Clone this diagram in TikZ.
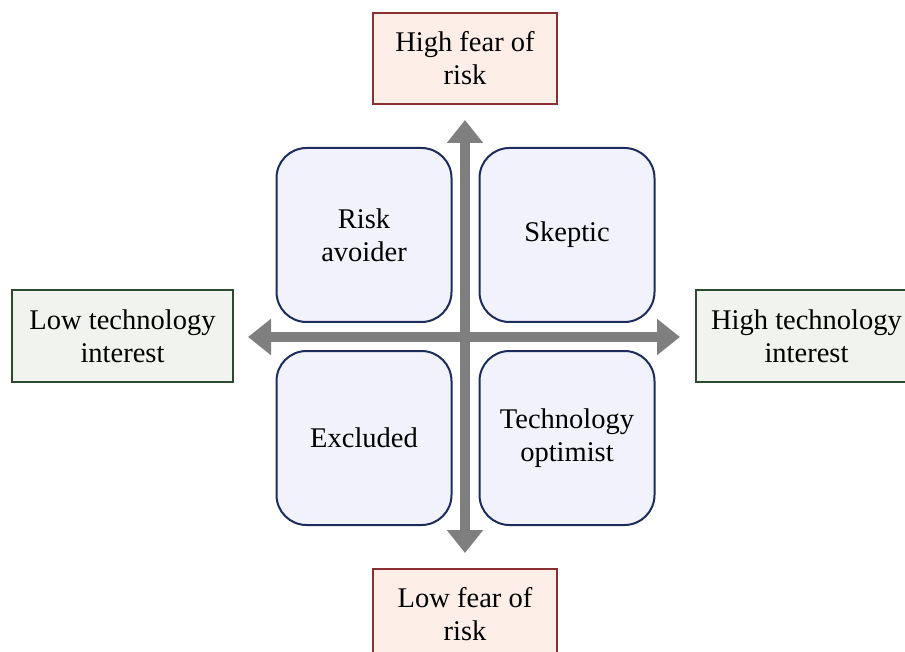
\documentclass[tikz,border=0pt]{standalone}
\usepackage{fontspec}
\setmainfont{Liberation Serif}
\usetikzlibrary{arrows.meta}
\definecolor{pinkfill}{HTML}{FDEFE8}
\definecolor{pinkdraw}{HTML}{8B3030}
\definecolor{greenfill}{HTML}{F0F3EE}
\definecolor{greendraw}{HTML}{2E4A2E}
\definecolor{quadfill}{HTML}{F2F2FC}
\definecolor{quaddraw}{HTML}{1C2C5C}
\definecolor{axisgray}{HTML}{7F7F7F}
\tikzset{
  lbl/.style={font=\fontsize{28.5}{33}\selectfont, align=center, inner sep=0pt, text=black},
  fearbox/.style={lbl, draw=pinkdraw, fill=pinkfill, line width=1.5pt, minimum width=184pt, minimum height=91pt},
  techbox/.style={lbl, draw=greendraw, fill=greenfill, line width=1.5pt, minimum width=221pt, minimum height=92pt},
  quad/.style={lbl, draw=quaddraw, fill=quadfill, line width=2pt, rounded corners=30pt, minimum width=175pt, minimum height=174pt},
  axis/.style={draw=axisgray, line width=10pt, {Triangle[width=35pt,length=23pt]}-{Triangle[width=35pt,length=23pt]}}
}
\begin{document}
\begin{tikzpicture}[x=1pt,y=-1pt]
\useasboundingbox (0,0) rectangle (905,652);
\clip (0,0) rectangle (905,652);
\fill[white] (0,0) rectangle (905,652);
% axes
\coordinate (top) at (465,120);
\coordinate (bot) at (465,553);
\coordinate (lft) at (248,337);
\coordinate (rgt) at (680,337);
\draw[axis] (bot) -- (top);
\draw[axis] (lft) -- (rgt);
% quadrants
\node[quad] (ra) at (364,235) {Risk\\avoider};
\node[quad] (sk) at (567,235) {Skeptic};
\node[quad] (ex) at (364,438) {Excluded};
\node[quad] (to) at (567,438) {Technology\\optimist};
% labels
\node[fearbox] (hf) at (465,58.5) {High fear of\\risk};
\node[fearbox] (lf) at (465,614.5) {Low fear of\\risk};
\node[techbox] (lt) at (122.5,336) {Low technology\\interest};
\node[techbox] (ht) at (806.5,336) {High technology\\interest};
\end{tikzpicture}
\end{document}
